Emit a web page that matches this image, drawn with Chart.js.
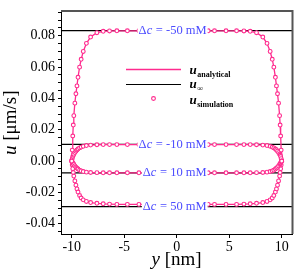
<!DOCTYPE html>
<html>
<head>
<meta charset="utf-8">
<script src="https://cdn.jsdelivr.net/npm/chart.js@4.4.0/dist/chart.umd.min.js"></script>
<style>
  html, body { margin: 0; padding: 0; background: #fff; }
  #wrap { width: 305px; height: 271px; }
</style>
</head>
<body>
<div id="wrap"><canvas id="profile"></canvas></div>
<script>
// axis ranges
const X_MIN = -11.02, X_MAX = 10.98;
const Y_MIN = -0.0466, Y_MAX = 0.0956;

// sample positions across the channel (nm)
const yNm = [-10, -9.95, -9.9, -9.85, -9.8, -9.7, -9.6, -9.5, -9.4, -9.25, -9.1, -8.9, -8.6, -8.2, -7.6, -7.0, -6.4, -5.7, -4.7, -3.6, -3.0, -2.0, -1.0,
  0,
  1.0, 2.0, 3.0, 3.6, 4.7, 5.7, 6.4, 7.0, 7.6, 8.2, 8.6, 8.9, 9.1, 9.25, 9.4, 9.5, 9.6, 9.7, 9.8, 9.85, 9.9, 9.95, 10];

// velocity profiles (um/s), one per concentration difference
const uM50 = [0, 0.007, 0.016, 0.023, 0.029, 0.037, 0.043, 0.048, 0.0535, 0.060, 0.065, 0.070, 0.0752, 0.0792, 0.0820, 0.0829, 0.0831, 0.0832, 0.0832, 0.0832, 0.0832, 0.0832, 0.0832,
  0.0832,
  0.0832, 0.0832, 0.0832, 0.0832, 0.0832, 0.0832, 0.0831, 0.0829, 0.0820, 0.0792, 0.0752, 0.070, 0.065, 0.060, 0.0535, 0.048, 0.043, 0.037, 0.029, 0.023, 0.016, 0.007, 0];
const uM10 = [0, 0.0015, 0.0029, 0.0037, 0.0044, 0.0054, 0.0063, 0.0071, 0.0077, 0.0084, 0.0089, 0.0094, 0.0099, 0.0102, 0.0104, 0.0105, 0.0105, 0.0105, 0.0105, 0.0105, 0.0105, 0.0105, 0.0105,
  0.0105,
  0.0105, 0.0105, 0.0105, 0.0105, 0.0105, 0.0105, 0.0105, 0.0105, 0.0104, 0.0102, 0.0099, 0.0094, 0.0089, 0.0084, 0.0077, 0.0071, 0.0063, 0.0054, 0.0044, 0.0037, 0.0029, 0.0015, 0];
const uP10 = [0, -0.0006, -0.0012, -0.0017, -0.0022, -0.0031, -0.0039, -0.0045, -0.0051, -0.0058, -0.0063, -0.0067, -0.0071, -0.0073, -0.0074, -0.0075, -0.0075, -0.0075, -0.0075, -0.0075, -0.0075, -0.0075, -0.0075,
  -0.0075,
  -0.0075, -0.0075, -0.0075, -0.0075, -0.0075, -0.0075, -0.0075, -0.0075, -0.0074, -0.0073, -0.0071, -0.0067, -0.0063, -0.0058, -0.0051, -0.0045, -0.0039, -0.0031, -0.0022, -0.0017, -0.0012, -0.0006, 0];
const uP50 = [0, -0.0025, -0.0049, -0.0073, -0.0096, -0.0127, -0.0154, -0.0178, -0.0198, -0.0220, -0.0236, -0.0248, -0.0258, -0.0265, -0.0270, -0.0273, -0.0275, -0.0277, -0.0277, -0.0277, -0.0277, -0.0277, -0.0277,
  -0.0277,
  -0.0277, -0.0277, -0.0277, -0.0277, -0.0277, -0.0277, -0.0275, -0.0273, -0.0270, -0.0265, -0.0258, -0.0248, -0.0236, -0.0220, -0.0198, -0.0178, -0.0154, -0.0127, -0.0096, -0.0073, -0.0049, -0.0025, 0];

// bulk velocity u_inf for each case
const uInf = [0.0833, 0.0106, -0.0076, -0.0291];
const dcLabels = ["-50", "-10", "10", "50"];
const LABEL_X = 2.85; // right edge of the labels, nm

const PINK = "#ff2b8e";
const LABEL_BLUE = "rgb(76,76,255)";
const SERIF = "'Liberation Serif', 'DejaVu Serif', serif";

const profiles = [uM50, uM10, uP10, uP50];

let datasets = [];
profiles.forEach((u, i) => {
  let pts = yNm.map((y, j) => ({ x: y, y: u[j] }));
  datasets.push({
    label: "simulation " + dcLabels[i],
    data: pts,
    showLine: false,
    pointRadius: 1.9,
    pointBorderWidth: 1.1,
    pointBorderColor: PINK,
    pointBackgroundColor: "#fff",
    order: 0,
  });
  datasets.push({
    label: "analytical " + dcLabels[i],
    data: pts,
    showLine: true,
    borderColor: PINK,
    borderWidth: 1.3,
    pointRadius: 0,
    order: 1,
  });
});
uInf.forEach((v, i) => {
  datasets.push({
    label: "u_inf " + dcLabels[i],
    data: [{ x: X_MIN, y: v }, { x: X_MAX, y: v }],
    showLine: true,
    borderColor: "#000",
    borderWidth: 1.2,
    pointRadius: 0,
    order: 2,
  });
});

// Δc labels sitting on the u_inf lines
const dcLabelPlugin = {
  id: "dcLabels",
  afterDatasetsDraw(chart) {
    const ctx = chart.ctx;
    const xs = chart.scales.x, ys = chart.scales.y;
    ctx.save();
    ctx.textBaseline = "middle";
    const fReg = "12.5px " + SERIF, fIt = "italic 12.5px " + SERIF;
    uInf.forEach((v, i) => {
      const right = xs.getPixelForValue(LABEL_X);
      const py = ys.getPixelForValue(v);
      const tail = " = " + dcLabels[i] + " mM";
      ctx.font = fReg; const wD = ctx.measureText("Δ").width; const wT = ctx.measureText(tail).width;
      ctx.font = fIt; const wC = ctx.measureText("c").width + 0.5;
      const left = right - wD - wC - wT;
      ctx.fillStyle = "#fff";
      ctx.fillRect(left - 1, py - 6, wD + wC + wT + 2, 12);
      ctx.fillStyle = LABEL_BLUE;
      ctx.textAlign = "left";
      ctx.font = fReg; ctx.fillText("Δ", left, py);
      ctx.font = fIt; ctx.fillText("c", left + wD, py);
      ctx.font = fReg; ctx.fillText(tail, left + wD + wC, py);
    });
    ctx.restore();
  },
};

// frame, legend and axis titles
const decorPlugin = {
  id: "decor",
  afterDraw(chart) {
    const ctx = chart.ctx;
    const a = chart.chartArea;
    ctx.save();
    // top and right frame
    ctx.strokeStyle = "#555";
    ctx.lineWidth = 2;
    ctx.beginPath();
    ctx.moveTo(a.left, a.top - 0.5);
    ctx.lineTo(a.right + 0.5, a.top - 0.5);
    ctx.lineTo(a.right + 0.5, a.bottom);
    ctx.stroke();

    // legend
    ctx.lineWidth = 1.3;
    ctx.strokeStyle = PINK;
    ctx.beginPath(); ctx.moveTo(126, 69.5); ctx.lineTo(181, 69.5); ctx.stroke();
    ctx.lineWidth = 1.2;
    ctx.strokeStyle = "#000";
    ctx.beginPath(); ctx.moveTo(126, 84.5); ctx.lineTo(181, 84.5); ctx.stroke();
    ctx.lineWidth = 1.1;
    ctx.strokeStyle = PINK;
    ctx.fillStyle = "#fff";
    ctx.beginPath(); ctx.arc(153.5, 98.5, 1.9, 0, Math.PI * 2); ctx.fill(); ctx.stroke();

    const entries = [["analytical", 73.5], ["∞", 88], ["simulation", 103.5]];
    ctx.fillStyle = "#000";
    ctx.textAlign = "left";
    ctx.textBaseline = "alphabetic";
    entries.forEach(([sub, base]) => {
      ctx.font = "italic bold 13px " + SERIF;
      ctx.fillText("u", 189.5, base);
      const w = ctx.measureText("u").width;
      ctx.font = "bold 8px " + SERIF;
      ctx.fillText(sub, 189.5 + w + 0.5, base + 3);
    });

    // axis titles
    const TF = "19px " + SERIF, TFI = "italic 19px " + SERIF;
    ctx.font = TFI;
    const wy = ctx.measureText("y").width;
    ctx.font = TF;
    const wn = ctx.measureText(" [nm]").width;
    const cx = (a.left + a.right) / 2;
    let x0 = cx - (wy + wn) / 2;
    ctx.font = TFI; ctx.fillText("y", x0, 265);
    ctx.font = TF; ctx.fillText(" [nm]", x0 + wy, 265);

    ctx.translate(16, (a.top + a.bottom) / 2);
    ctx.rotate(-Math.PI / 2);
    ctx.font = TFI;
    const wu = ctx.measureText("u").width;
    ctx.font = TF;
    const wm = ctx.measureText(" [μm/s]").width;
    x0 = -(wu + wm) / 2;
    ctx.font = TFI; ctx.fillText("u", x0, 0);
    ctx.font = TF; ctx.fillText(" [μm/s]", x0 + wu, 0);
    ctx.restore();
  },
};

new Chart(document.getElementById("profile"), {
  type: "scatter",
  data: { datasets: datasets },
  options: {
    responsive: true,
    maintainAspectRatio: false,
    animation: false,
    layout: { padding: { top: 3, right: 13, left: 0, bottom: 0 } },
    plugins: {
      legend: { display: false },
      tooltip: { enabled: false },
    },
    scales: {
      x: {
        type: "linear",
        min: X_MIN,
        max: X_MAX,
        afterFit: (s) => { s.height = 37; },
        border: { color: "#000", width: 1 },
        grid: { drawOnChartArea: false, drawTicks: true, tickLength: 4, color: "#000" },
        ticks: {
          stepSize: 5,
          includeBounds: false,
          maxRotation: 0,
          padding: 1,
          color: "#000",
          font: { family: SERIF, size: 14 },
          callback: (v) => String(Math.round(v)),
        },
      },
      y: {
        type: "linear",
        min: Y_MIN,
        max: Y_MAX,
        afterFit: (s) => { s.width = 61; },
        border: { color: "#000", width: 1 },
        grid: { drawOnChartArea: false, drawTicks: true, tickLength: 3, color: "#000" },
        ticks: {
          stepSize: 0.005,
          includeBounds: false,
          autoSkip: false,
          padding: 3,
          color: "#000",
          font: { family: SERIF, size: 14 },
          callback: function (v) {
            const r = Math.round(v * 1000) / 1000;
            if (Math.abs(r / 0.02 - Math.round(r / 0.02)) < 1e-6) return (Math.abs(r) < 1e-9 ? 0 : r).toFixed(2);
            return "";
          },
        },
      },
    },
  },
  plugins: [dcLabelPlugin, decorPlugin],
});
</script>
</body>
</html>
